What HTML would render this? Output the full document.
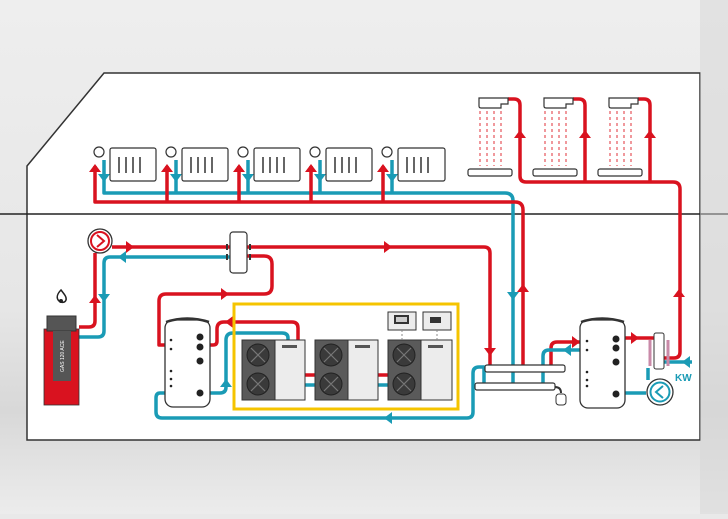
<!DOCTYPE html>
<html><head><meta charset="utf-8"><style>
html,body{margin:0;padding:0;}
body{width:728px;height:514px;overflow:hidden;background:#e9e9e9;font-family:"Liberation Sans",sans-serif;}
</style></head><body>
<svg width="728" height="514" viewBox="0 0 728 514" xmlns="http://www.w3.org/2000/svg">
<defs>
<linearGradient id="bg" x1="0" y1="0" x2="0" y2="1"><stop offset="0" stop-color="#eeeeee"/><stop offset="0.6" stop-color="#e6e6e6"/><stop offset="0.8" stop-color="#d8d8d8"/><stop offset="1" stop-color="#ececec"/></linearGradient>
<marker id="ar" viewBox="0 0 10 10" refX="5" refY="5" markerWidth="4" markerHeight="4" orient="auto"><path d="M0 0L10 5L0 10z" fill="#d9121f"/></marker>
</defs>
<rect width="728" height="514" fill="url(#bg)"/>
<polygon points="27,166 104,73 700,73 700,440 27,440" fill="#fff" stroke="#333" stroke-width="1.5"/>
<line x1="0" y1="214" x2="728" y2="214" stroke="#222" stroke-width="1.5"/>
<rect x="700" y="0" width="28" height="514" fill="#d5d5d5" opacity="0.5"/>

<g fill="none" stroke-width="3.5" stroke-linejoin="round">
<!-- radiator loop -->
<path d="M104 160 V193 H505 Q513 193 513 201 V383" stroke="#1a9bb5"/>
<path d="M95 166 V202 H515 Q523 202 523 210 V365" stroke="#d9121f"/>
<path d="M176 160 V193 M248 160 V193 M320 160 V193 M392 160 V193" stroke="#1a9bb5"/>
<path d="M167 166 V202 M239 166 V202 M311 166 V202 M383 166 V202" stroke="#d9121f"/>
<!-- showers -->
<path d="M508 99 H514 Q520 99 520 105 V176 Q520 182 526 182 H673 Q680 182 680 189 V352 Q680 358 674 358 H664" stroke="#d9121f"/>
<path d="M573 99 H579 Q585 99 585 105 V182 M638 99 H644 Q650 99 650 105 V182" stroke="#d9121f"/>
<!-- boiler / pump loop -->
<path d="M79 327 H89 Q95 327 95 321 V253" stroke="#d9121f"/>
<path d="M79 337 H98 Q104 337 104 331 V263 Q104 257 110 257 H231" stroke="#1a9bb5"/>
<path d="M112 247 H484 Q490 247 490 253 V365" stroke="#d9121f"/>
<path d="M247 256 H264 Q272 256 272 264 V286 Q272 294 264 294 H166 Q159 294 159 301 V345 H165" stroke="#d9121f"/>
<!-- heat pump pipes -->
<path d="M210 345 H213 Q217 345 217 341 V329 Q217 322 224 322 H292 Q298 322 298 328 V340" stroke="#d9121f"/>
<path d="M210 393 H220 Q226 393 226 387 V340 Q226 333 233 333 H282 Q288 333 288 338 V340" stroke="#1a9bb5"/>
<path d="M165 393 H160 Q156 393 156 398 V412 Q156 418 162 418 H467 Q473 418 473 412 V373 Q473 367 479 367 H484 V383" stroke="#1a9bb5"/>
<path d="M305 375 H315 M378 375 H388" stroke="#d9121f"/>
<path d="M305 385 H315 M378 385 H388" stroke="#1a9bb5"/>
<!-- right side -->
<path d="M551 365 V348 Q551 342 557 342 H580" stroke="#d9121f"/>
<path d="M543 383 V356 Q543 350 549 350 H580" stroke="#1a9bb5"/>
<path d="M625 338 H654" stroke="#d9121f"/>
<path d="M625 393 H646 M648 368 V380" stroke="#1a9bb5"/>
<path d="M664 362 H692" stroke="#1a9bb5"/>
</g>
<!-- arrowheads -->
<g fill="#d9121f">
<path d="M89 172 L95 164 L101 172Z M161 172 L167 164 L173 172Z M233 172 L239 164 L245 172Z M305 172 L311 164 L317 172Z M377 172 L383 164 L389 172Z"/>
<path d="M514 138 L520 130 L526 138Z M579 138 L585 130 L591 138Z M644 138 L650 130 L656 138Z"/>
<path d="M89 303 L95 295 L101 303Z M517 292 L523 284 L529 292Z M673 297 L679 289 L685 297Z"/>
<path d="M484 348 L490 356 L496 348Z M126 241 L134 247 L126 253Z M384 241 L392 247 L384 253Z M221 288 L229 294 L221 300Z M233 316 L225 322 L233 328Z M572 336 L580 342 L572 348Z M631 332 L639 338 L631 344Z"/>
</g>
<g fill="#1a9bb5">
<path d="M98 174 L104 182 L110 174Z M170 174 L176 182 L182 174Z M242 174 L248 182 L254 174Z M314 174 L320 182 L326 174Z M386 174 L392 182 L398 174Z"/>
<path d="M98 294 L104 302 L110 294Z M507 292 L513 300 L519 292Z"/>
<path d="M126 251 L118 257 L126 263Z M392 412 L384 418 L392 424Z M571 344 L563 350 L571 356Z M220 387 L226 379 L232 387Z M610 387 L602 393 L610 399Z M690 356 L682 362 L690 368Z"/>
</g>
<!-- radiators -->
<g stroke="#333" stroke-width="1.2" fill="#fff">
<circle cx="99" cy="152" r="5"/><circle cx="171" cy="152" r="5"/><circle cx="243" cy="152" r="5"/><circle cx="315" cy="152" r="5"/><circle cx="387" cy="152" r="5"/>
<rect x="110" y="148" width="46" height="33" rx="2"/><rect x="182" y="148" width="46" height="33" rx="2"/><rect x="254" y="148" width="46" height="33" rx="2"/><rect x="326" y="148" width="46" height="33" rx="2"/><rect x="398" y="148" width="47" height="33" rx="2"/>
</g>
<g stroke="#333" stroke-width="1.5">
<path d="M119 157v16M126 157v16M133 157v16M140 157v16 M191 157v16M198 157v16M205 157v16M212 157v16 M263 157v16M270 157v16M277 157v16M284 157v16 M335 157v16M342 157v16M349 157v16M356 157v16 M407 157v16M414 157v16M421 157v16M428 157v16"/>
</g>
<!-- showers -->
<g stroke="#333" stroke-width="1.2" fill="#fff">
<path d="M479 98 H508 V104 H501 V108 H481 Q479 108 479 106Z"/><path d="M544 98 H573 V104 H566 V108 H546 Q544 108 544 106Z"/><path d="M609 98 H638 V104 H631 V108 H611 Q609 108 609 106Z"/>
<rect x="468" y="169" width="44" height="7" rx="2"/><rect x="533" y="169" width="44" height="7" rx="2"/><rect x="598" y="169" width="44" height="7" rx="2"/>
</g>
<g stroke="#e0303a" stroke-width="1" stroke-dasharray="3,3">
<path d="M480 111v55M487 111v55M494 111v55M501 111v55 M545 111v55M552 111v55M559 111v55M566 111v55 M610 111v55M617 111v55M624 111v55M631 111v55"/>
</g>
<!-- pump -->
<circle cx="100" cy="241" r="12" fill="#fff" stroke="#333" stroke-width="1.3"/>
<circle cx="100" cy="241" r="9" fill="#fff" stroke="#d9121f" stroke-width="2"/>
<path d="M97 235 L104 241 L97 247" fill="none" stroke="#d9121f" stroke-width="2"/>
<!-- separator -->
<rect x="230" y="232" width="17" height="41" rx="3" fill="#fff" stroke="#333" stroke-width="1.2"/>
<path d="M227 244v6M227 254v6M250 244v6M250 254v6" stroke="#333" stroke-width="2"/>
<!-- boiler -->
<path d="M61 290 c-4 4 -5 8 -2 11 c2 2 6 2 7 -1 c1 -3 -2 -6 -5 -10z" fill="#fff" stroke="#222" stroke-width="1.5"/>
<circle cx="61" cy="301" r="2" fill="#222"/>
<rect x="44" y="329" width="35" height="76" fill="#d9121f" stroke="#333" stroke-width="0.8"/>
<rect x="47" y="316" width="29" height="15" fill="#555" stroke="#333"/>
<rect x="53" y="331" width="18" height="50" fill="#555"/>
<text x="0" y="0" transform="translate(64 372) rotate(-90)" font-size="5" fill="#fff">GAS 120 ACE</text>
<!-- tank 1 -->
<rect x="165" y="320" width="45" height="87" rx="8" fill="#fff" stroke="#333" stroke-width="1.3"/>
<path d="M166 322 Q187 315 209 322" fill="none" stroke="#333" stroke-width="2.5"/>
<g fill="#222"><circle cx="200" cy="337" r="3.5"/><circle cx="200" cy="347" r="3.5"/><circle cx="200" cy="361" r="3.5"/><circle cx="200" cy="393" r="3.5"/><circle cx="171" cy="340" r="1.3"/><circle cx="171" cy="349" r="1.3"/><circle cx="171" cy="371" r="1.3"/><circle cx="171" cy="379" r="1.3"/><circle cx="171" cy="386" r="1.3"/></g>
<!-- yellow box -->
<rect x="234" y="304" width="224" height="105" fill="none" stroke="#f5c400" stroke-width="3"/>
<!-- heat pumps -->
<g stroke="#333" stroke-width="1">
<rect x="242" y="340" width="63" height="60" fill="#ececec"/><rect x="242" y="340" width="33" height="60" fill="#5a5a5a"/>
<rect x="315" y="340" width="63" height="60" fill="#ececec"/><rect x="315" y="340" width="33" height="60" fill="#5a5a5a"/>
<rect x="388" y="340" width="64" height="60" fill="#ececec"/><rect x="388" y="340" width="33" height="60" fill="#5a5a5a"/>
</g>
<g fill="#3a3a3a" stroke="#222" stroke-width="1">
<circle cx="258" cy="355" r="11"/><circle cx="258" cy="384" r="11"/><circle cx="331" cy="355" r="11"/><circle cx="331" cy="384" r="11"/><circle cx="404" cy="355" r="11"/><circle cx="404" cy="384" r="11"/>
</g>
<g stroke="#777" stroke-width="1.2"><path d="M251 348l14 14M265 348l-14 14M251 377l14 14M265 377l-14 14M324 348l14 14M338 348l-14 14M324 377l14 14M338 377l-14 14M397 348l14 14M411 348l-14 14M397 377l14 14M411 377l-14 14"/></g>
<g fill="#555" font-size="3"><rect x="282" y="345" width="15" height="3"/><rect x="355" y="345" width="15" height="3"/><rect x="428" y="345" width="15" height="3"/></g>
<!-- controllers -->
<rect x="388" y="312" width="28" height="18" fill="#ececec" stroke="#333"/><rect x="394" y="315" width="15" height="9" fill="#333"/><rect x="396" y="317" width="11" height="5" fill="#ccc"/>
<rect x="423" y="312" width="28" height="18" fill="#ececec" stroke="#333"/><rect x="430" y="317" width="11" height="6" fill="#333"/>
<path d="M402 330v10M437 330v10" stroke="#888" stroke-dasharray="2,2"/>
<!-- manifolds -->
<rect x="485" y="365" width="80" height="7" rx="2" fill="#fff" stroke="#333" stroke-width="1.2"/>
<rect x="475" y="383" width="80" height="7" rx="2" fill="#fff" stroke="#333" stroke-width="1.2"/>
<path d="M555 387 Q561 387 561 393" fill="none" stroke="#333" stroke-width="2"/>
<rect x="556" y="394" width="10" height="11" rx="3" fill="#fff" stroke="#333"/>
<!-- tank 2 -->
<rect x="580" y="320" width="45" height="88" rx="8" fill="#fff" stroke="#333" stroke-width="1.3"/>
<path d="M581 322 Q602 315 624 322" fill="none" stroke="#333" stroke-width="2.5"/>
<g fill="#222"><circle cx="616" cy="339" r="3.5"/><circle cx="616" cy="348" r="3.5"/><circle cx="616" cy="362" r="3.5"/><circle cx="616" cy="394" r="3.5"/><circle cx="587" cy="341" r="1.3"/><circle cx="587" cy="350" r="1.3"/><circle cx="587" cy="372" r="1.3"/><circle cx="587" cy="380" r="1.3"/><circle cx="587" cy="386" r="1.3"/></g>
<!-- exchanger -->
<rect x="654" y="333" width="10" height="36" rx="2" fill="#fff" stroke="#333"/>
<path d="M650 340 V366 M668 340 V366" stroke="#c98aa8" stroke-width="3"/>
<circle cx="660" cy="392" r="13" fill="#fff" stroke="#333" stroke-width="1.3"/>
<circle cx="660" cy="392" r="9.5" fill="#fff" stroke="#1a9bb5" stroke-width="2"/>
<path d="M663 386 L656 392 L663 398" fill="none" stroke="#1a9bb5" stroke-width="2"/>
<text x="675" y="381" font-size="10" font-weight="bold" fill="#1a9bb5">KW</text>
</svg>
</body></html>
